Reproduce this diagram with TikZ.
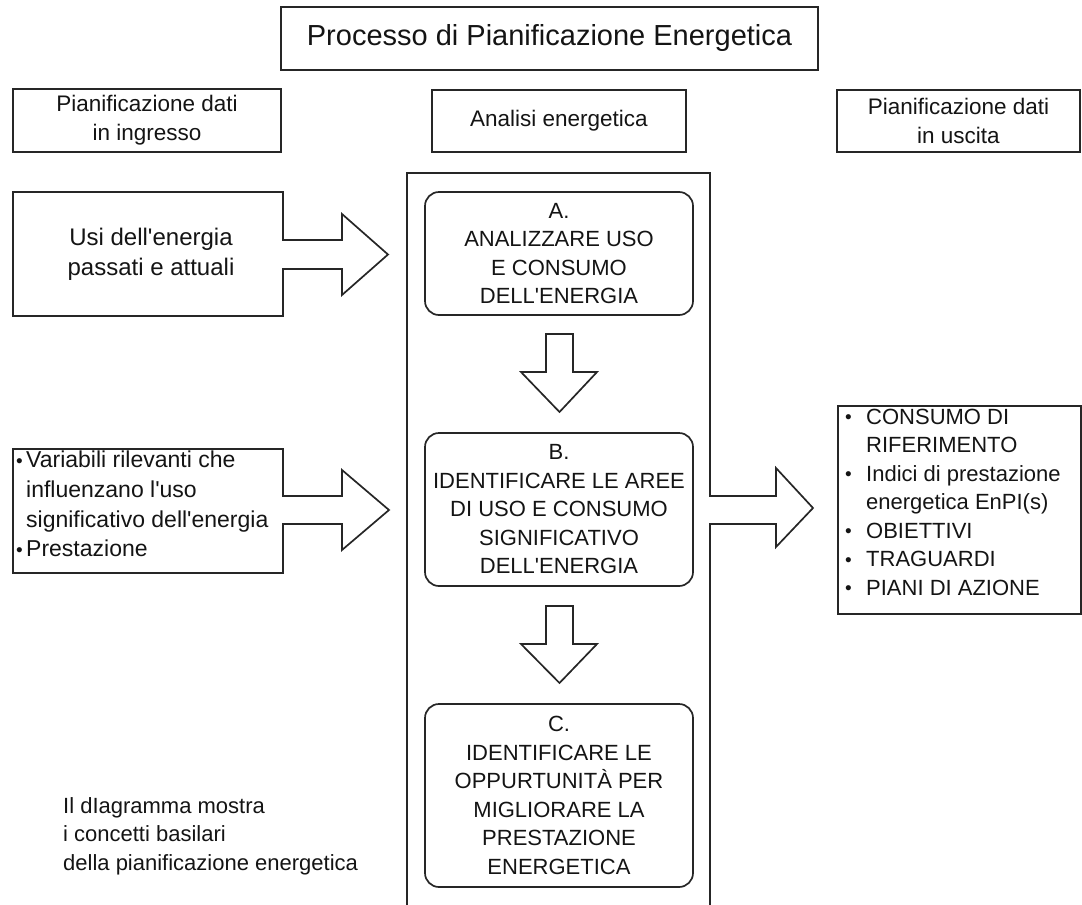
\documentclass[tikz,border=0pt]{standalone}
\usepackage{fontspec}
\setmainfont{Liberation Sans}
\newcommand{\apos}{\textquotesingle}
\newcommand{\blt}{\hspace*{1pt}\raisebox{0.3pt}{\fontsize{19}{19}\selectfont\textbullet}}
\begin{document}
\begin{tikzpicture}[x=1pt,y=-1pt,
  ln/.style={draw=black!85, line width=1.7pt, line join=miter},
  frame/.style={ln, inner sep=0pt, text=black!92},
  rbox/.style={frame, rounded corners=14pt, minimum width=268, align=center,
               font=\fontsize{22}{28.5}\selectfont},
  hdr/.style={frame, align=center, font=\fontsize{22.5}{29}\selectfont},
  side/.style={inner sep=0pt, text=black!92, font=\fontsize{23}{29.6}\selectfont},
  note/.style={inner sep=0pt, text=black!92, font=\fontsize{22}{28.5}\selectfont, align=left, anchor=west}
]
\useasboundingbox (0,0) rectangle (1082,905);

% title and headers
\node[frame, minimum width=537, minimum height=63, font=\fontsize{29}{35}\selectfont] (title) at (549.5,38.5) {Processo di Pianificazione Energetica};
\node[hdr, minimum width=268, minimum height=63] (hin) at (147,120.5) {Pianificazione dati\\in ingresso};
\node[hdr, minimum width=254, minimum height=62] (han) at (559,121) {Analisi energetica};
\node[hdr, minimum width=243, minimum height=62] (hout) at (958.5,121) {Pianificazione dati\\in uscita};

% central column with outgoing arrow
\draw[ln] (407,905) -- (407,173) -- (710,173) -- (710,496) -- (776,496) -- (776,468)
  -- (813,508) -- (776,547) -- (776,524) -- (710,524) -- (710,905);

% process boxes
\node[rbox, minimum height=123] (A) at (559,253.5) {A.\\ANALIZZARE USO\\E CONSUMO\\DELL\apos ENERGIA};
\node[rbox, minimum height=153] (B) at (559,509.5) {B.\\IDENTIFICARE LE AREE\\DI USO E CONSUMO\\SIGNIFICATIVO\\DELL\apos ENERGIA};
\node[rbox, minimum height=183] (C) at (559,795.5) {C.\\IDENTIFICARE LE\\OPPURTUNITÀ PER\\MIGLIORARE LA\\PRESTAZIONE\\ENERGETICA};

% down block arrows
\draw[ln] (546,334) -- (573,334) -- (573,372) -- (597,372) -- (559.5,412) -- (521,372) -- (546,372) -- cycle;
\draw[ln] (546,606) -- (573,606) -- (573,644) -- (597,644) -- (559.5,683) -- (521,644) -- (546,644) -- cycle;

% input arrow 1
\draw[ln] (13,192) -- (283,192) -- (283,240) -- (342,240) -- (342,214) -- (388,254.5)
  -- (342,295) -- (342,269) -- (283,269) -- (283,316) -- (13,316) -- cycle;
\node[side, align=center, font=\fontsize{24}{30}\selectfont] (usi) at (151,254) {Usi dell\apos energia\\passati e attuali};

% input arrow 2
\draw[ln] (13,449) -- (283,449) -- (283,496) -- (342,496) -- (342,470) -- (389,510)
  -- (342,550) -- (342,524) -- (283,524) -- (283,573) -- (13,573) -- cycle;
\node[side, align=left, anchor=west] (var) at (15,504) {\makebox[11pt][l]{\blt}Variabili rilevanti che\\\hspace*{11pt}influenzano l\apos uso\\\hspace*{11pt}significativo dell\apos energia\\\makebox[11pt][l]{\blt}Prestazione};

% output box
\node[frame, minimum width=243, minimum height=208, anchor=north west] (out) at (837,405) {};
\node[note] (outtxt) at (844,502) {\makebox[22pt][l]{\blt}CONSUMO DI\\\hspace*{22pt}RIFERIMENTO\\\makebox[22pt][l]{\blt}Indici di prestazione\\\hspace*{22pt}energetica EnPI(s)\\\makebox[22pt][l]{\blt}OBIETTIVI\\\makebox[22pt][l]{\blt}TRAGUARDI\\\makebox[22pt][l]{\blt}PIANI DI AZIONE};

% note
\node[note] (nota) at (63,836) {Il dIagramma mostra\\i concetti basilari\\della pianificazione energetica};
\end{tikzpicture}
\end{document}
